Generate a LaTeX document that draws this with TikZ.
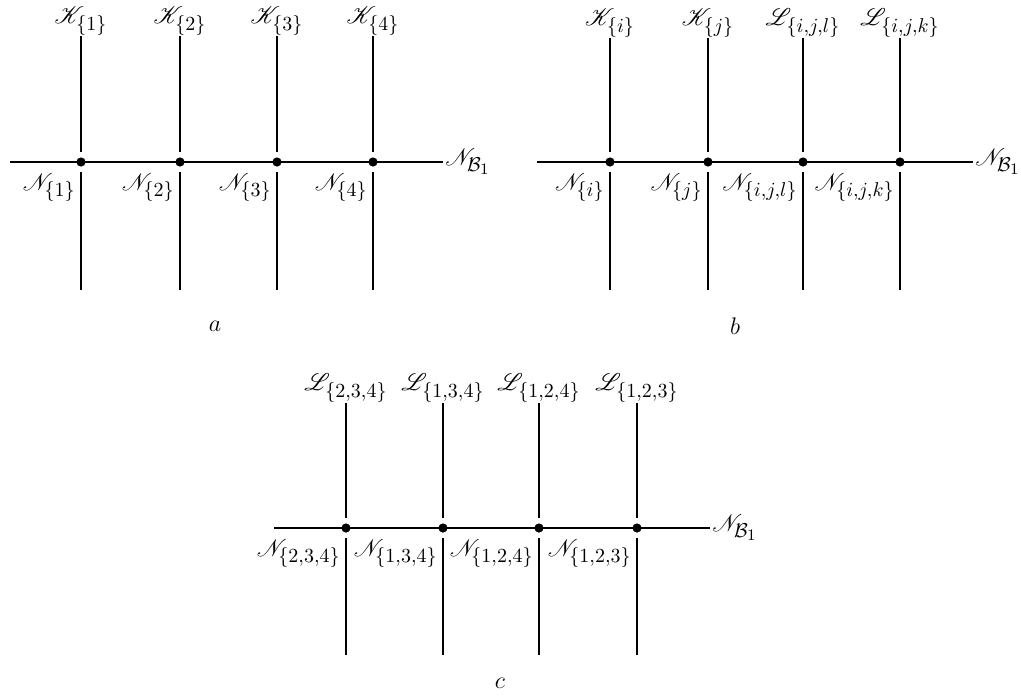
\documentclass[tikz,border=0pt]{standalone}
\usepackage{mathrsfs}
\DeclareMathSizes{12}{12}{10}{8}
\begin{document}
\begin{tikzpicture}[x=0.5pt,y=-0.5pt,
  every node/.style={font=\large},
  wire/.style={line width=1.4pt},
  junction/.style={circle,fill,inner sep=0pt,minimum size=4.6pt},
  toplab/.style={anchor=south,inner sep=0.75pt,yshift=-0.5pt},
  botlab/.style={anchor=north east,inner sep=0.5pt},
  endlab/.style={anchor=west,inner sep=1pt},
  caption/.style={inner sep=1pt}]
\useasboundingbox (0,0) rectangle (1021,696);
% ---------- panel a ----------
\coordinate (aL) at (10,162);
\coordinate (aR) at (443,162);
\draw[wire] (aL) -- (aR);
\node[endlab] (aNB) at (aR) {$\mathscr{N}_{\mathcal{B}_1}$};
\foreach \x/\tl/\bl [count=\i] in {81/{\{1\}}/{\{1\}},180/{\{2\}}/{\{2\}},277/{\{3\}}/{\{3\}},373/{\{4\}}/{\{4\}}}{
  \node[junction] (a\i) at (\x,162) {};
  \coordinate (at\i) at (\x,36);
  \coordinate (au\i) at (\x,152);
  \coordinate (ad\i) at (\x,172);
  \coordinate (ab\i) at (\x,290);
  \draw[wire] (at\i) -- (au\i);
  \draw[wire] (ad\i) -- (ab\i);
  \node[toplab] (aK\i) at (at\i) {$\mathscr{K}_{\tl}$};
  \node[botlab] (aN\i) at ([xshift=-2pt]ad\i) {$\mathscr{N}_{\bl}$};
}
\node[caption] (capa) at (215,326) {$a$};
% ---------- panel b ----------
\coordinate (bL) at (537,162);
\coordinate (bR) at (973,162);
\draw[wire] (bL) -- (bR);
\node[endlab] (bNB) at (bR) {$\mathscr{N}_{\mathcal{B}_1}$};
\foreach \x/\tl/\bl [count=\i] in {610/{\mathscr{K}_{\{i\}}}/{\{i\}},708/{\mathscr{K}_{\{j\}}}/{\{j\}},803/{\mathscr{L}_{\{i,j,l\}}}/{\{i,j,l\}},900/{\mathscr{L}_{\{i,j,k\}}}/{\{i,j,k\}}}{
  \node[junction] (b\i) at (\x,162) {};
  \coordinate (bt\i) at (\x,38);
  \coordinate (bu\i) at (\x,152);
  \coordinate (bd\i) at (\x,172);
  \coordinate (bb\i) at (\x,290);
  \draw[wire] (bt\i) -- (bu\i);
  \draw[wire] (bd\i) -- (bb\i);
  \node[toplab] (bK\i) at (bt\i) {$\tl$};
  \node[botlab] (bN\i) at ([xshift=-2pt]bd\i) {$\mathscr{N}_{\bl}$};
}
\node[caption] (capb) at (735,326) {$b$};
% ---------- panel c ----------
\coordinate (cL) at (274,528);
\coordinate (cR) at (710,528);
\draw[wire] (cL) -- (cR);
\node[endlab] (cNB) at (cR) {$\mathscr{N}_{\mathcal{B}_1}$};
\foreach \x/\tl [count=\i] in {346/{\{2,3,4\}},443/{\{1,3,4\}},539/{\{1,2,4\}},637/{\{1,2,3\}}}{
  \node[junction] (c\i) at (\x,528) {};
  \coordinate (ct\i) at (\x,403);
  \coordinate (cu\i) at (\x,518);
  \coordinate (cd\i) at (\x,538);
  \coordinate (cb\i) at (\x,655);
  \draw[wire] (ct\i) -- (cu\i);
  \draw[wire] (cd\i) -- (cb\i);
  \node[toplab] (cK\i) at (ct\i) {$\mathscr{L}_{\tl}$};
  \node[botlab] (cN\i) at ([xshift=-2pt]cd\i) {$\mathscr{N}_{\tl}$};
}
\node[caption] (capc) at (500,683) {$c$};
\end{tikzpicture}
\end{document}
